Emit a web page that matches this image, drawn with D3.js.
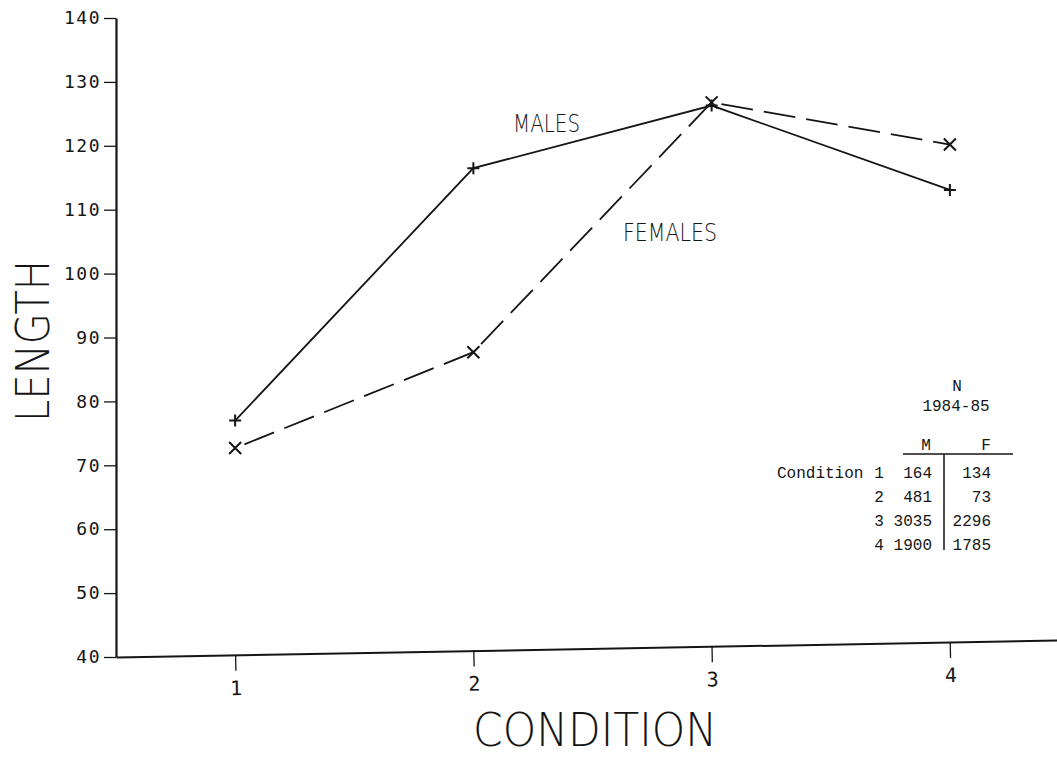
<!DOCTYPE html>
<html>
<head>
<meta charset="utf-8">
<script src="https://cdn.jsdelivr.net/npm/d3@7"></script>
<style>
  html, body { margin: 0; padding: 0; background: #fff; }
  svg { display: block; }
</style>
</head>
<body>
<svg id="chart" width="1057" height="757"></svg>
<script>
// Mean length by condition, males and females
const conditions = [1, 2, 3, 4];
const malesLength = [77, 116.5, 126.3, 113.1];
const femalesLength = [72.7, 87.7, 126.8, 120.2];
const yTicks = [40, 50, 60, 70, 80, 90, 100, 110, 120, 130, 140];

// Sample sizes, 1984-85
const nConditions = [1, 2, 3, 4];
const nMales = [164, 481, 3035, 1900];
const nFemales = [134, 73, 2296, 1785];

const ink = "#151515";
const svg = d3.select("#chart");

const x = d3.scaleLinear().domain([0.5, 4.5]).range([116, 1069]);
const y = d3.scaleLinear().domain([40, 140]).range([657, 18]);

const tickFont = "'DejaVu Sans Mono', monospace";

// Y axis
const yAxis = svg.append("g")
  .attr("transform", `translate(${x(0.5)},0)`)
  .call(d3.axisLeft(y).tickValues(yTicks).tickSize(12).tickSizeOuter(0).tickPadding(3));
yAxis.select(".domain").attr("stroke", ink).attr("stroke-width", 2.2);
yAxis.selectAll(".tick line").attr("stroke", ink).attr("stroke-width", 1.3);
yAxis.selectAll(".tick text")
  .attr("fill", ink).attr("font-family", tickFont).attr("font-size", 18)
  .attr("letter-spacing", 1.5);

// X axis, drawn with the slight slope of the plotter baseline
const xAxis = svg.append("g")
  .attr("transform", `translate(0,${y(40)}) rotate(-1.03 ${x(0.5)} 0)`)
  .call(d3.axisBottom(x).tickValues(conditions).tickFormat(d3.format("d"))
    .tickSize(16).tickSizeOuter(0).tickPadding(10));
xAxis.select(".domain").attr("stroke", ink).attr("stroke-width", 2);
xAxis.selectAll(".tick line").attr("stroke", ink).attr("stroke-width", 1.3);
xAxis.selectAll(".tick text")
  .attr("fill", ink).attr("font-family", tickFont).attr("font-size", 20);

// Axis titles
const titleFont = "'DejaVu Sans', sans-serif";
svg.append("text")
  .attr("x", 595).attr("y", 746)
  .attr("text-anchor", "middle")
  .attr("font-family", titleFont).attr("font-size", 46).attr("font-weight", 200)
  .attr("textLength", 244).attr("lengthAdjust", "spacingAndGlyphs")
  .attr("fill", ink)
  .text("CONDITION");

svg.append("text")
  .attr("transform", "translate(49,341) rotate(-90)")
  .attr("text-anchor", "middle")
  .attr("font-family", titleFont).attr("font-size", 46).attr("font-weight", 200)
  .attr("textLength", 162).attr("lengthAdjust", "spacingAndGlyphs")
  .attr("fill", ink)
  .text("LENGTH");

// Series lines
const line = d3.line().x((d, i) => x(conditions[i])).y(d => y(d));

svg.append("path")
  .datum(malesLength)
  .attr("d", line)
  .attr("fill", "none").attr("stroke", ink).attr("stroke-width", 1.8);

svg.append("path")
  .datum(femalesLength)
  .attr("d", line)
  .attr("fill", "none").attr("stroke", ink).attr("stroke-width", 1.8)
  .attr("stroke-dasharray", "32,11").attr("stroke-dashoffset", -10);

// Markers: plus for males, cross for females
const m = 6;
svg.append("g").selectAll("path")
  .data(malesLength)
  .join("path")
  .attr("d", (d, i) => {
    const cx = x(conditions[i]), cy = y(d);
    return `M${cx - m},${cy}H${cx + m}M${cx},${cy - m}V${cy + m}`;
  })
  .attr("stroke", ink).attr("stroke-width", 2);

svg.append("g").selectAll("path")
  .data(femalesLength)
  .join("path")
  .attr("d", (d, i) => {
    const cx = x(conditions[i]), cy = y(d);
    return `M${cx - m},${cy - m}L${cx + m},${cy + m}M${cx - m},${cy + m}L${cx + m},${cy - m}`;
  })
  .attr("stroke", ink).attr("stroke-width", 2);

// Series labels
svg.append("text")
  .attr("x", 513).attr("y", 132)
  .attr("font-family", titleFont).attr("font-size", 25).attr("font-weight", 300)
  .attr("textLength", 67).attr("lengthAdjust", "spacingAndGlyphs")
  .attr("fill", ink).text("MALES");

svg.append("text")
  .attr("x", 623).attr("y", 241)
  .attr("font-family", titleFont).attr("font-size", 25).attr("font-weight", 300)
  .attr("textLength", 94).attr("lengthAdjust", "spacingAndGlyphs")
  .attr("fill", ink).text("FEMALES");

// Sample size table
const tFont = "'Liberation Mono', 'DejaVu Sans Mono', monospace";
const table = svg.append("g")
  .attr("font-family", tFont).attr("font-size", 16).attr("fill", ink);

table.append("text").attr("x", 957).attr("y", 391).attr("text-anchor", "middle").text("N");
table.append("text").attr("x", 956).attr("y", 411).attr("text-anchor", "middle").text("1984-85");
table.append("text").attr("x", 926).attr("y", 450).attr("text-anchor", "middle").text("M");
table.append("text").attr("x", 986).attr("y", 450).attr("text-anchor", "middle").text("F");

const rowY = d3.scalePoint().domain(nConditions).range([478, 550]);

table.append("text").attr("x", 777).attr("y", rowY(1)).text("Condition");
table.selectAll("text.cond")
  .data(nConditions).join("text").attr("class", "cond")
  .attr("x", 879).attr("y", d => rowY(d)).attr("text-anchor", "middle")
  .text(d => d);
table.selectAll("text.nm")
  .data(nMales).join("text").attr("class", "nm")
  .attr("x", 932).attr("y", (d, i) => rowY(nConditions[i])).attr("text-anchor", "end")
  .text(d => d);
table.selectAll("text.nf")
  .data(nFemales).join("text").attr("class", "nf")
  .attr("x", 991).attr("y", (d, i) => rowY(nConditions[i])).attr("text-anchor", "end")
  .text(d => d);

table.append("line")
  .attr("x1", 903).attr("x2", 1013).attr("y1", 454).attr("y2", 454)
  .attr("stroke", ink).attr("stroke-width", 1.5);
table.append("line")
  .attr("x1", 944).attr("x2", 944).attr("y1", 454).attr("y2", 550)
  .attr("stroke", ink).attr("stroke-width", 1.5);
</script>
</body>
</html>
